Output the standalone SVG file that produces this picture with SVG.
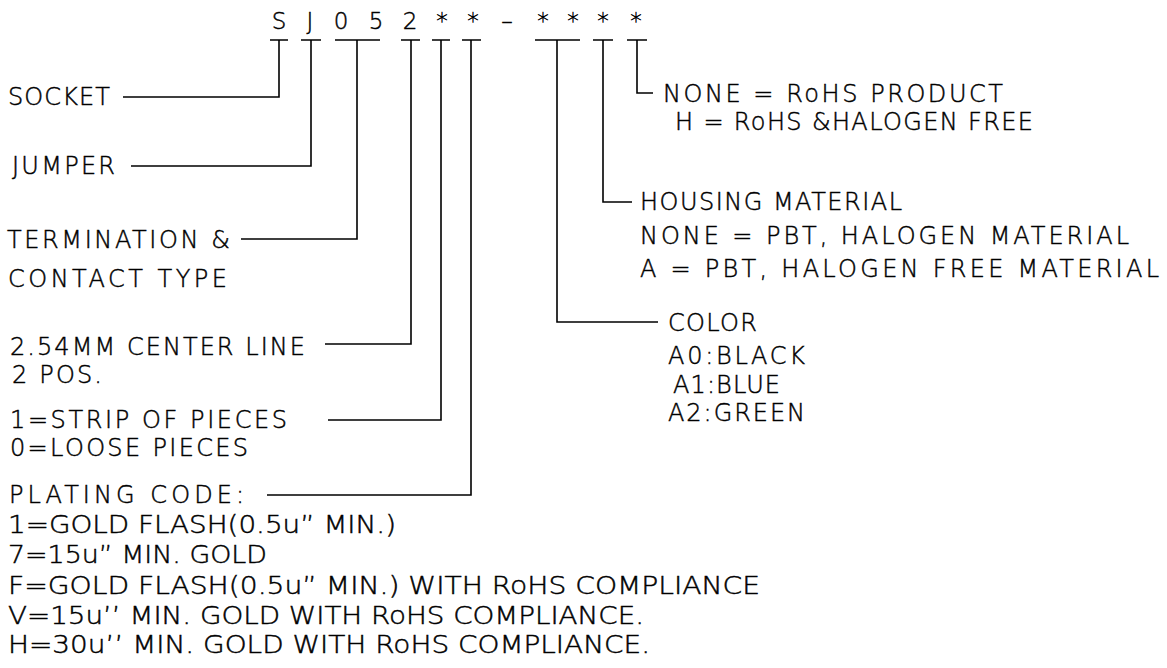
<svg xmlns="http://www.w3.org/2000/svg" width="1167" height="668" viewBox="0 0 1167 668">
<style>
text{font-family:"DejaVu Sans","Liberation Sans",sans-serif;font-weight:200;fill:#000;stroke:#000;stroke-width:0.45;font-size:24px}
.h{font-size:23px;text-anchor:middle}
.ln{fill:none;stroke:#000;stroke-width:1.6}
</style>
<rect width="1167" height="668" fill="#fff"/>
<g id="header">
<text class="h" x="279" y="29">S</text>
<text class="h" x="310" y="29">J</text>
<text class="h" x="341" y="29">0</text>
<text class="h" x="376" y="29">5</text>
<text class="h" x="410" y="29">2</text>
<text class="h" x="442" y="29">*</text>
<text class="h" x="473" y="29">*</text>
<text class="h" x="507" y="29">–</text>
<text class="h" x="543" y="29">*</text>
<text class="h" x="573" y="29">*</text>
<text class="h" x="603" y="29">*</text>
<text class="h" x="636" y="29">*</text>
</g>
<g id="connectors" class="ln">
<path d="M270 40H288M279 40V97H123"/>
<path d="M301 40H321M311 40V166H131"/>
<path d="M335 40H380M357 40V239H241"/>
<path d="M401 40H420M411 40V344H325"/>
<path d="M432 40H450M441 40V420H328"/>
<path d="M462 40H481M471 40V495H267"/>
<path d="M535 40H580M557 40V322H658"/>
<path d="M593 40H613M603 40V202H632"/>
<path d="M627 40H647M637 40V93H653"/>
</g>
<g id="socket"><text x="8" y="105" textLength="102">SOCKET</text></g>
<g id="jumper"><text x="12" y="174" textLength="103">JUMPER</text></g>
<g id="termination"><text x="7" y="248" textLength="223">TERMINATION &amp;</text><text x="8" y="287" textLength="219">CONTACT TYPE</text></g>
<g id="centerline"><text x="10" y="355" textLength="295">2.54MM CENTER LINE</text><text x="12" y="383" textLength="90">2 POS.</text></g>
<g id="packing"><text x="10" y="428" textLength="277">1=STRIP OF PIECES</text><text x="10" y="456" textLength="238">0=LOOSE PIECES</text></g>
<g id="plating">
<text x="9" y="503" textLength="235">PLATING CODE:</text>
<text x="8" y="533" textLength="388" lengthAdjust="spacingAndGlyphs">1=GOLD FLASH(0.5u” MIN.)</text>
<text x="8" y="563" textLength="259" lengthAdjust="spacingAndGlyphs">7=15u” MIN. GOLD</text>
<text x="8" y="594" textLength="752" lengthAdjust="spacingAndGlyphs">F=GOLD FLASH(0.5u” MIN.) WITH RoHS COMPLIANCE</text>
<text x="8" y="624" textLength="636" lengthAdjust="spacingAndGlyphs">V=15u’’ MIN. GOLD WITH RoHS COMPLIANCE.</text>
<text x="8" y="653" textLength="642" lengthAdjust="spacingAndGlyphs">H=30u’’ MIN. GOLD WITH RoHS COMPLIANCE.</text>
</g>
<g id="rohs"><text x="663" y="102" textLength="340">NONE = RoHS PRODUCT</text><text x="675" y="130" textLength="358">H = RoHS &amp;HALOGEN FREE</text></g>
<g id="housing"><text x="640" y="210" textLength="262">HOUSING MATERIAL</text><text x="640" y="244" textLength="489">NONE = PBT, HALOGEN MATERIAL</text><text x="640" y="277" textLength="519">A = PBT, HALOGEN FREE MATERIAL</text></g>
<g id="color"><text x="668" y="331" textLength="89">COLOR</text><text x="668" y="364" textLength="137">A0:BLACK</text><text x="673" y="393" textLength="107">A1:BLUE</text><text x="668" y="421" textLength="137">A2:GREEN</text></g>
</svg>
